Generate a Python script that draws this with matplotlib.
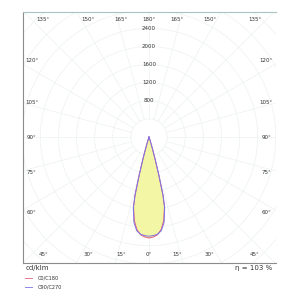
import numpy as np
import matplotlib
matplotlib.use('Agg')
import matplotlib.pyplot as plt

# luminous intensity distribution, cd/klm, gamma angle in degrees from nadir
gamma = [0, 2.5, 5, 7.5, 10, 12.5, 13.5, 14.5, 15.5, 16.5, 18, 20]
c0_c180 = [2230, 2210, 2165, 2060, 1870, 1575, 1320, 850, 480, 240, 60, 0]
c90_c270 = [2190, 2180, 2155, 2085, 1915, 1600, 1330, 860, 490, 245, 60, 0]

ring_values = [800, 1200, 1600, 2000, 2400]
ring_step = 400
angle_step = 15
efficiency = 103

red = '#e3607c'
blue = '#7c72e8'
grid_col = '#edf1f1'


def to_xy(g, i):
    g = np.radians(np.concatenate([-np.array(g)[::-1], np.array(g)]))
    i = np.concatenate([np.array(i)[::-1], np.array(i)])
    return i * np.sin(g), -i * np.cos(g)


fig = plt.figure(figsize=(3.0, 2.98), dpi=100)
ax = fig.add_axes([0.078, 0.117, 0.843, 0.842])
ax.set_xlim(-2774, 2811)
ax.set_ylim(-2785, 2756)

# polar grid
t = np.linspace(0, 2 * np.pi, 400)
for r in np.arange(ring_step, 4400, ring_step):
    ax.plot(r * np.cos(t), r * np.sin(t), color=grid_col, lw=0.5, zorder=1)
for a in np.arange(0, 360, angle_step):
    ar = np.radians(a)
    ax.plot([ring_step * np.sin(ar), 5000 * np.sin(ar)],
            [ring_step * np.cos(ar), 5000 * np.cos(ar)],
            color=grid_col, lw=0.5, zorder=1)

# curves
xr, yr = to_xy(gamma, c0_c180)
xb, yb = to_xy(gamma, c90_c270)
ax.fill(xb, yb, color='#f3f6a4', zorder=2, lw=0)
ax.fill(xr, yr, color='#f3f6a4', zorder=2, lw=0)
ax.plot(xr, yr, color=red, lw=0.7, zorder=3)
ax.plot(xb, yb, color=blue, lw=0.7, zorder=4)

# ring labels
for v in ring_values:
    ax.text(0, v, str(v), fontsize=4, ha='center', va='center', color='#333333', zorder=5)

# angle labels
fs = 4
tc = '#333333'
top_x = [-2336, -1343, -615, 0, 615, 1343, 2336]
top_lab = [135, 150, 165, 180, 165, 150, 135]
bot_lab = [45, 30, 15, 0, 15, 30, 45]
for x, a in zip(top_x, top_lab):
    ax.text(x, 2600, '%d°' % a, fontsize=fs, ha='center', va='center', color=tc)
for x, a in zip(top_x, bot_lab):
    ax.text(x, -2600, '%d°' % a, fontsize=fs, ha='center', va='center', color=tc)
side_y = [1700, 758, 0, -789, -1673]
side_lab = [120, 105, 90, 75, 60]
for y, a in zip(side_y, side_lab):
    ax.text(-2590, y, '%d°' % a, fontsize=fs, ha='center', va='center', color=tc)
    ax.text(2590, y, '%d°' % a, fontsize=fs, ha='center', va='center', color=tc)

ax.set_xticks([])
ax.set_yticks([])
ax.spines['right'].set_visible(False)
ax.spines['top'].set_color('#a9c2c2')
ax.spines['left'].set_color('#8c8c8c')
ax.spines['bottom'].set_color('#8c8c8c')
for s in ax.spines.values():
    s.set_linewidth(0.8)

fig.text(0.085, 0.1, 'cd/klm', fontsize=5, ha='left', va='center', color='#333333')
fig.text(0.908, 0.1, 'η = %d %%' % efficiency, fontsize=5, ha='right', va='center', color='#333333')
fig.add_artist(plt.Line2D([0.083, 0.105], [0.066, 0.066], color=red, lw=0.6))
fig.add_artist(plt.Line2D([0.083, 0.105], [0.038, 0.038], color=blue, lw=0.6))
fig.text(0.127, 0.066, 'C0/C180', fontsize=3.6, ha='left', va='center', color='#333333')
fig.text(0.127, 0.038, 'C90/C270', fontsize=3.6, ha='left', va='center', color='#333333')

fig.savefig('out.png', dpi=100)
